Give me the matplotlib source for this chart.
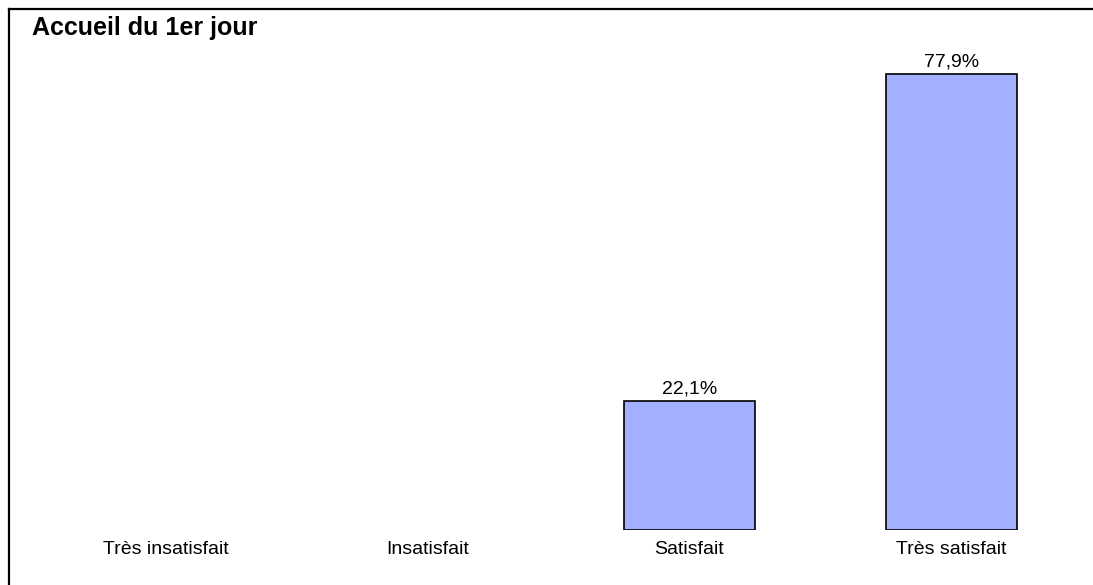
import matplotlib.pyplot as plt
from matplotlib.lines import Line2D

categories = ['Très insatisfait', 'Insatisfait', 'Satisfait', 'Très satisfait']
values = [0.0, 0.0, 22.1, 77.9]
labels = ['', '', '22,1%', '77,9%']

plt.rcParams['font.family'] = ['Liberation Sans', 'DejaVu Sans']

W, H = 1093, 585
fig = plt.figure(figsize=(W / 100, H / 100), dpi=100)

# axes placed in pixel terms: x from 35 to 1082, baseline at 530, top (80%) at 62
ax = fig.add_axes([35 / W, (H - 530) / H, (1082 - 35) / W, (530 - 62) / H])
x = range(len(categories))
bars = ax.bar(x, values, width=0.5, color='#a3afff', edgecolor='black', linewidth=1.2)
for b, v, lab in zip(bars, values, labels):
    if v > 0:
        ax.text(b.get_x() + b.get_width() / 2, v + 0.6, lab,
                ha='center', va='bottom', fontsize=14)
    else:
        # empty categories: no outline
        b.set_linewidth(0)

ax.set_xlim(-0.5, 3.5)
ax.set_ylim(0, 80)
ax.set_xticks(list(x))
ax.set_xticklabels(categories, fontsize=14)
ax.tick_params(axis='x', length=0, pad=8)
ax.set_yticks([])
for s in ax.spines.values():
    s.set_visible(False)

# frame lines at top and left of the figure
fig.add_artist(Line2D([8.5 / W, 1], [(H - 9) / H, (H - 9) / H], color='black', lw=1.6,
                      transform=fig.transFigure))
fig.add_artist(Line2D([8.5 / W, 8.5 / W], [0, (H - 9) / H], color='black', lw=1.6,
                      transform=fig.transFigure))

fig.text(32 / W, (H - 35) / H, 'Accueil du 1er jour', fontsize=18, fontweight='bold',
         ha='left', va='baseline')

fig.savefig('out.png', dpi=100)
